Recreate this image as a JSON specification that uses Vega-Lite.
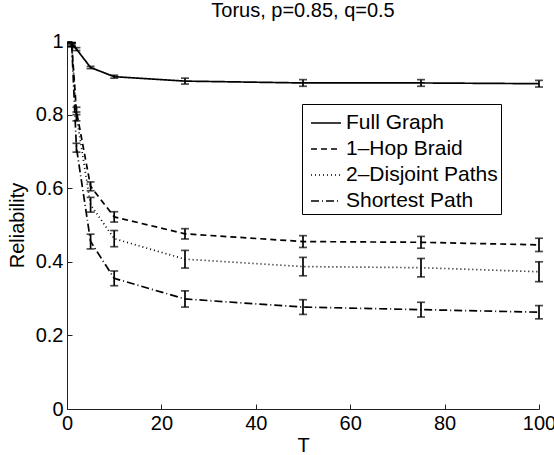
{
  "$schema": "https://vega.github.io/schema/vega-lite/v6.json",
  "width": 472,
  "height": 368,
  "autosize": "none",
  "padding": {"left": 67, "top": 41, "right": 15, "bottom": 46},
  "background": "white",
  "title": {"text": "Torus, p=0.85, q=0.5", "fontSize": 20, "fontWeight": "normal", "font": "Liberation Sans", "anchor": "middle", "offset": 10, "color": "black"},
  "config": {
    "view": {"stroke": null},
    "font": "Liberation Sans",
    "axis": {"domainColor": "#222", "tickColor": "#222", "labelColor": "black", "titleColor": "black", "labelFontSize": 20, "titleFontSize": 20, "titleFontWeight": "normal", "grid": false, "tickSize": -5, "labelPadding": 9, "labelFlush": false, "labelOverlap": false, "labelFont": "Liberation Sans", "titleFont": "Liberation Sans"},
    "legend": {"labelFont": "Liberation Sans"}
  },
  "data": {"values": [
    {"T": 1, "series": "Full Graph", "y": 0.993, "lo": 0.990, "hi": 0.996},
    {"T": 2, "series": "Full Graph", "y": 0.978, "lo": 0.974, "hi": 0.982},
    {"T": 5, "series": "Full Graph", "y": 0.928, "lo": 0.925, "hi": 0.931},
    {"T": 10, "series": "Full Graph", "y": 0.903, "lo": 0.899, "hi": 0.907},
    {"T": 25, "series": "Full Graph", "y": 0.891, "lo": 0.883, "hi": 0.899},
    {"T": 50, "series": "Full Graph", "y": 0.886, "lo": 0.877, "hi": 0.895},
    {"T": 75, "series": "Full Graph", "y": 0.886, "lo": 0.877, "hi": 0.895},
    {"T": 100, "series": "Full Graph", "y": 0.884, "lo": 0.875, "hi": 0.893},
    {"T": 1, "series": "1–Hop Braid", "y": 0.99, "lo": 0.985, "hi": 0.995},
    {"T": 2, "series": "1–Hop Braid", "y": 0.81, "lo": 0.80, "hi": 0.82},
    {"T": 5, "series": "1–Hop Braid", "y": 0.605, "lo": 0.593, "hi": 0.617},
    {"T": 10, "series": "1–Hop Braid", "y": 0.522, "lo": 0.508, "hi": 0.536},
    {"T": 25, "series": "1–Hop Braid", "y": 0.476, "lo": 0.462, "hi": 0.490},
    {"T": 50, "series": "1–Hop Braid", "y": 0.455, "lo": 0.439, "hi": 0.471},
    {"T": 75, "series": "1–Hop Braid", "y": 0.453, "lo": 0.437, "hi": 0.469},
    {"T": 100, "series": "1–Hop Braid", "y": 0.446, "lo": 0.428, "hi": 0.464},
    {"T": 1, "series": "2–Disjoint Paths", "y": 0.99, "lo": 0.985, "hi": 0.995},
    {"T": 2, "series": "2–Disjoint Paths", "y": 0.795, "lo": 0.783, "hi": 0.807},
    {"T": 5, "series": "2–Disjoint Paths", "y": 0.555, "lo": 0.535, "hi": 0.575},
    {"T": 10, "series": "2–Disjoint Paths", "y": 0.463, "lo": 0.441, "hi": 0.485},
    {"T": 25, "series": "2–Disjoint Paths", "y": 0.407, "lo": 0.383, "hi": 0.431},
    {"T": 50, "series": "2–Disjoint Paths", "y": 0.387, "lo": 0.362, "hi": 0.412},
    {"T": 75, "series": "2–Disjoint Paths", "y": 0.384, "lo": 0.359, "hi": 0.409},
    {"T": 100, "series": "2–Disjoint Paths", "y": 0.373, "lo": 0.346, "hi": 0.400},
    {"T": 1, "series": "Shortest Path", "y": 0.99, "lo": 0.985, "hi": 0.995},
    {"T": 2, "series": "Shortest Path", "y": 0.71, "lo": 0.698, "hi": 0.722},
    {"T": 5, "series": "Shortest Path", "y": 0.455, "lo": 0.435, "hi": 0.475},
    {"T": 10, "series": "Shortest Path", "y": 0.355, "lo": 0.335, "hi": 0.375},
    {"T": 25, "series": "Shortest Path", "y": 0.299, "lo": 0.277, "hi": 0.321},
    {"T": 50, "series": "Shortest Path", "y": 0.277, "lo": 0.257, "hi": 0.297},
    {"T": 75, "series": "Shortest Path", "y": 0.270, "lo": 0.250, "hi": 0.290},
    {"T": 100, "series": "Shortest Path", "y": 0.263, "lo": 0.245, "hi": 0.281}
  ]},
  "layer": [
    {
      "mark": {"type": "line", "color": "black", "strokeWidth": 1.7},
      "encoding": {
        "x": {"field": "T", "type": "quantitative", "title": "T", "scale": {"domain": [0, 100], "nice": false}, "axis": {"values": [0, 20, 40, 60, 80, 100], "titlePadding": 2}},
        "y": {"field": "y", "type": "quantitative", "title": "Reliability", "scale": {"domain": [0, 1], "nice": false}, "axis": {"values": [0, 0.2, 0.4, 0.6, 0.8, 1], "format": "~g", "titlePadding": 8}},
        "strokeDash": {
          "field": "series", "type": "nominal",
          "scale": {"domain": ["Full Graph", "1–Hop Braid", "2–Disjoint Paths", "Shortest Path"], "range": [[1, 0], [6, 4], [1, 3], [8, 3, 1, 3]]},
          "legend": {"title": null, "orient": "none", "legendX": 235, "legendY": 63, "strokeColor": "black", "fillColor": "white", "padding": 3, "symbolOffset": 5, "symbolType": "stroke", "symbolSize": 900, "symbolStrokeWidth": 1.7, "symbolStrokeColor": "black", "labelFontSize": 21, "labelColor": "black", "rowPadding": -3, "labelOffset": 4}
        },
        "order": {"field": "T", "type": "quantitative"}
      }
    },
    {
      "mark": {"type": "errorbar", "ticks": {"size": 8, "color": "black", "thickness": 1.7}, "rule": {"color": "black", "strokeWidth": 1.7}},
      "encoding": {
        "x": {"field": "T", "type": "quantitative", "title": "T"},
        "y": {"field": "lo", "type": "quantitative", "title": "Reliability"},
        "y2": {"field": "hi"},
        "detail": {"field": "series", "type": "nominal"}
      }
    }
  ]
}
